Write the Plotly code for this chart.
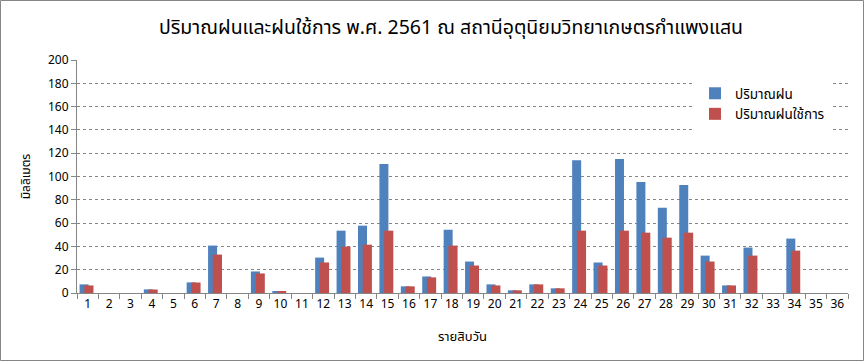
import plotly.graph_objects as go

categories = [str(i) for i in range(1, 37)]
rain = [7.4, 0, 0, 3.1, 0, 9.1, 40.7, 0, 18.5, 1.4, 0, 30.4, 53.5, 57.8, 110.7, 5.7, 14.2, 54.3,
        27.0, 7.4, 2.3, 7.4, 4.0, 114.0, 26.2, 115.0, 95.3, 73.1, 92.7, 32.1, 6.5, 39.0, 0, 46.7, 0, 0]
eff_rain = [6.5, 0, 0, 3.0, 0, 9.0, 33.0, 0, 16.8, 1.4, 0, 26.2, 39.8, 41.5, 53.5, 5.7, 13.4, 40.7,
            23.6, 6.5, 2.3, 7.4, 4.0, 53.5, 23.6, 53.5, 51.8, 47.5, 51.8, 27.0, 6.5, 32.1, 0, 36.4, 0, 0]
y_ticks = list(range(0, 201, 20))

title_text = "ปริมาณฝนและฝนใช้การ พ.ศ. 2561 ณ สถานีอุตุนิยมวิทยาเกษตรกำแพงแสน"
name_rain = "ปริมาณฝน"
name_eff = "ปริมาณฝนใช้การ"
x_title = "รายสิบวัน"
y_title = "มิลลิเมตร"

FONT = "Tahoma, 'Noto Sans Thai', 'DejaVu Sans', sans-serif"

W, H = 864, 361
L, R, T, B = 77, 16, 60, 68

fig = go.Figure()
fig.add_trace(go.Bar(x=categories, y=rain, name=name_rain, marker_color="#4F81BD",
                     offset=-0.38, width=0.42, marker_line_width=0))
fig.add_trace(go.Bar(x=categories, y=eff_rain, name=name_eff, marker_color="#C0504D",
                     offset=-0.16, width=0.43, marker_line_width=0))

pw = W - L - R
ph = H - T - B
fig.add_shape(type="rect", xref="paper", yref="paper",
              x0=(0.5 - L) / pw, x1=(W - 0.5 - L) / pw,
              y0=-(B - 0.5) / ph, y1=1 + (T - 0.5) / ph,
              line=dict(color="#868686", width=1), fillcolor="rgba(0,0,0,0)", layer="below")

fig.update_layout(
    width=W, height=H,
    margin=dict(l=L, r=R, t=T, b=B, pad=0, autoexpand=False),
    barmode="overlay",
    paper_bgcolor="white", plot_bgcolor="white",
    font=dict(family=FONT, size=12, color="black"),
    title=dict(text=title_text, x=451 / W, xanchor="center", y=1 - 27 / H, yanchor="middle",
               font=dict(size=19.5, family=FONT)),
    legend=dict(x=(695 - L) / pw, y=1 - (78 - T) / ph, xanchor="left", yanchor="top",
                bgcolor="white", font=dict(size=13.5), itemwidth=30, tracegroupgap=2),
    showlegend=True,
)
fig.update_xaxes(type="category", showline=True, linecolor="#868686", linewidth=1,
                 ticks="outside", ticklen=5, tickcolor="#868686", tickson="boundaries",
                 showgrid=False, tickfont=dict(size=12), tickangle=0, automargin=False,
                 title=dict(text=x_title, font=dict(size=13), standoff=19),
                 range=[-0.5, 35.5])
fig.update_yaxes(range=[0, 200], tickvals=y_ticks, showline=True, linecolor="#868686",
                 linewidth=1, ticks="outside", ticklen=5, tickcolor="#868686",
                 showgrid=True, gridcolor="#868686", griddash="3px,3px", gridwidth=1,
                 zeroline=False, tickfont=dict(size=12), automargin=False,
                 title=dict(text=y_title, font=dict(size=12), standoff=14))

fig.write_html("out.html", config={"displayModeBar": False},
               post_script="document.body.style.margin='0';document.body.style.overflow='hidden';")
